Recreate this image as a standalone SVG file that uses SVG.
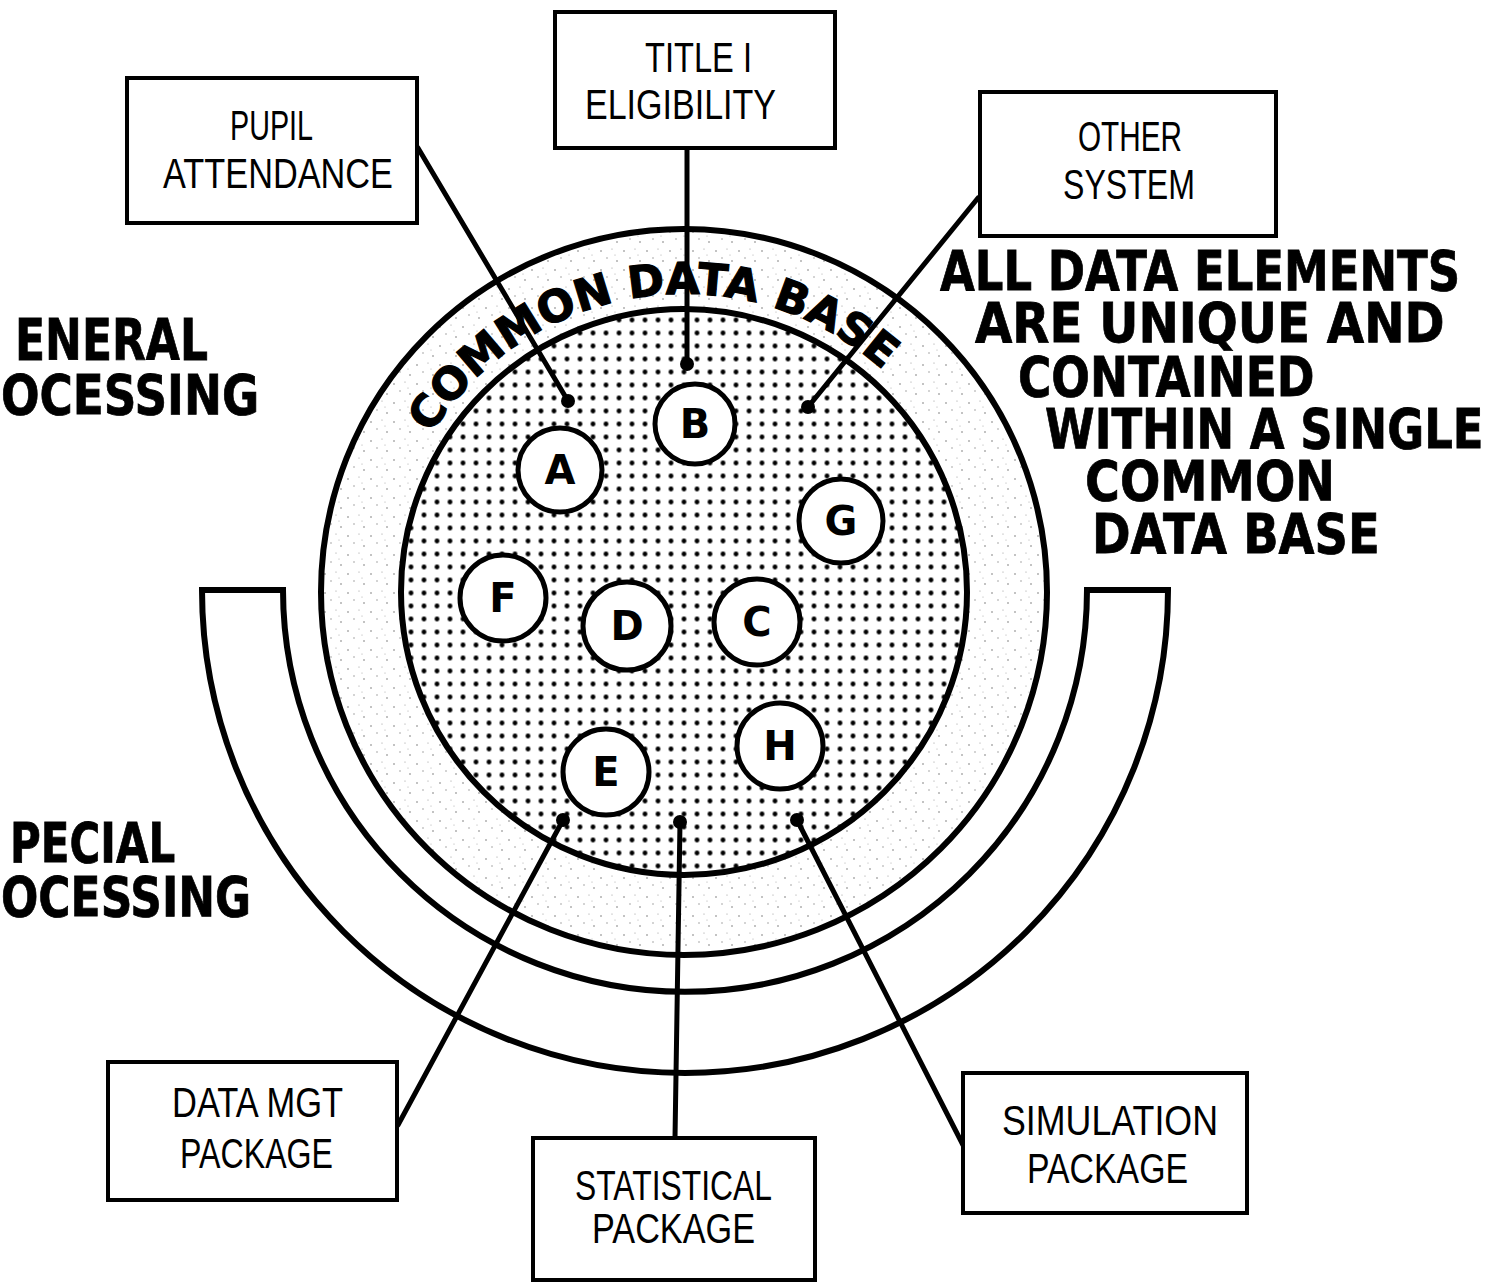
<svg xmlns="http://www.w3.org/2000/svg" width="1487" height="1284" viewBox="0 0 1487 1284">
<defs>
<pattern id="dots" x="443.5" y="560.5" width="13" height="13" patternUnits="userSpaceOnUse">
<rect width="13" height="13" fill="#fff"/>
<circle cx="6.5" cy="6.5" r="2.4" fill="#000"/>
</pattern>
<pattern id="speck" x="0" y="0" width="23" height="19" patternUnits="userSpaceOnUse">
<rect width="23" height="19" fill="#fff"/>
<circle cx="3" cy="4" r="0.8" fill="#777"/>
<circle cx="14" cy="2" r="0.6" fill="#999"/>
<circle cx="9" cy="11" r="0.7" fill="#888"/>
<circle cx="19" cy="14" r="0.8" fill="#777"/>
<circle cx="17" cy="8" r="0.5" fill="#999"/>
</pattern>
<path id="cdbArc" d="M 431.3 434.1 A 298 298 0 0 1 912.3 400.4"/>
</defs>
<style>
.ln{stroke:#000;stroke-width:5;fill:none;stroke-linecap:round}
.ring{stroke:#000;stroke-width:6}
.node circle{fill:#fff;stroke:#000;stroke-width:5}
.node text{font-family:"DejaVu Sans","Liberation Sans",sans-serif;font-weight:bold;font-size:40px;text-anchor:middle;fill:#000}
.box rect{fill:#fff;stroke:#000;stroke-width:4}
.box text{font-family:"Liberation Sans","DejaVu Sans",sans-serif;font-size:43px;fill:#000}
.big{font-family:"DejaVu Sans","Liberation Sans",sans-serif;font-weight:bold;font-size:56px;fill:#000;stroke:#000;stroke-width:0.8}
.end{fill:#000}
</style>

<g id="band">
<path class="ring" fill="#fff" d="M 202 590 L 283 590 A 402 402 0 0 0 1087 590 L 1168 590 A 483 483 0 0 1 202 590 Z"/>
</g>

<g id="common-data-base">
<circle class="ring" cx="684" cy="592" r="363" fill="url(#speck)"/>
<circle class="ring" cx="684" cy="592" r="283" fill="url(#dots)"/>
<text font-family="DejaVu Sans, Liberation Sans, sans-serif" font-weight="bold" font-size="44" fill="#000" stroke="#000" stroke-width="1.2"><textPath href="#cdbArc">COMMON DATA BASE</textPath></text>
</g>

<g id="node-A" class="node"><circle cx="560" cy="470" r="42"/><text x="560" y="484">A</text></g>
<g id="node-B" class="node"><circle cx="695" cy="424" r="40"/><text x="695" y="438">B</text></g>
<g id="node-G" class="node"><circle cx="841" cy="521" r="42"/><text x="841" y="535">G</text></g>
<g id="node-F" class="node"><circle cx="503" cy="598" r="43"/><text x="503" y="612">F</text></g>
<g id="node-D" class="node"><circle cx="627" cy="626" r="44"/><text x="627" y="640">D</text></g>
<g id="node-C" class="node"><circle cx="757" cy="622" r="43"/><text x="757" y="636">C</text></g>
<g id="node-H" class="node"><circle cx="780" cy="746" r="43"/><text x="780" y="760">H</text></g>
<g id="node-E" class="node"><circle cx="606" cy="772" r="43"/><text x="606" y="786">E</text></g>

<g id="connectors">
<line class="ln" x1="418" y1="148" x2="568" y2="401"/>
<line class="ln" x1="687" y1="148" x2="687" y2="364"/>
<line class="ln" x1="978" y1="198" x2="808" y2="407"/>
<line class="ln" x1="398" y1="1125" x2="563" y2="820"/>
<line class="ln" x1="675" y1="1138" x2="680" y2="822"/>
<line class="ln" x1="963" y1="1145" x2="797" y2="820"/>
<circle class="end" cx="568" cy="401" r="7"/>
<circle class="end" cx="687" cy="364" r="7"/>
<circle class="end" cx="808" cy="407" r="7"/>
<circle class="end" cx="563" cy="820" r="7"/>
<circle class="end" cx="680" cy="822" r="7"/>
<circle class="end" cx="797" cy="820" r="7"/>
</g>

<g id="box-pupil" class="box">
<rect x="127" y="78" width="290" height="145"/>
<text x="230" y="140" textLength="83" lengthAdjust="spacingAndGlyphs">PUPIL</text>
<text x="163" y="188" textLength="230" lengthAdjust="spacingAndGlyphs">ATTENDANCE</text>
</g>
<g id="box-title" class="box">
<rect x="555" y="12" width="280" height="136"/>
<text x="645" y="72" textLength="107" lengthAdjust="spacingAndGlyphs">TITLE I</text>
<text x="585" y="119" textLength="191" lengthAdjust="spacingAndGlyphs">ELIGIBILITY</text>
</g>
<g id="box-other" class="box">
<rect x="980" y="92" width="296" height="144"/>
<text x="1078" y="151" textLength="104" lengthAdjust="spacingAndGlyphs">OTHER</text>
<text x="1063" y="199" textLength="132" lengthAdjust="spacingAndGlyphs">SYSTEM</text>
</g>
<g id="box-datamgt" class="box">
<rect x="108" y="1062" width="289" height="138"/>
<text x="172" y="1117" textLength="171" lengthAdjust="spacingAndGlyphs">DATA MGT</text>
<text x="180" y="1168" textLength="153" lengthAdjust="spacingAndGlyphs">PACKAGE</text>
</g>
<g id="box-stat" class="box">
<rect x="533" y="1138" width="282" height="142"/>
<text x="575" y="1200" textLength="197" lengthAdjust="spacingAndGlyphs">STATISTICAL</text>
<text x="592" y="1243" textLength="163" lengthAdjust="spacingAndGlyphs">PACKAGE</text>
</g>
<g id="box-sim" class="box">
<rect x="963" y="1073" width="284" height="140"/>
<text x="1002" y="1135" textLength="216" lengthAdjust="spacingAndGlyphs">SIMULATION</text>
<text x="1027" y="1183" textLength="161" lengthAdjust="spacingAndGlyphs">PACKAGE</text>
</g>

<g id="labels">
<text class="big" transform="translate(15,360) scale(0.786,1)">ENERAL</text>
<text class="big" transform="translate(1,414) scale(0.81,1)">OCESSING</text>
<text class="big" transform="translate(10,862) scale(0.75,1)">PECIAL</text>
<text class="big" transform="translate(1,916) scale(0.785,1)">OCESSING</text>
<text class="big" transform="translate(940,290) scale(0.803,1)">ALL DATA ELEMENTS</text>
<text class="big" transform="translate(975,342) scale(0.862,1)">ARE UNIQUE AND</text>
<text class="big" transform="translate(1018,396) scale(0.812,1)">CONTAINED</text>
<text class="big" transform="translate(1045,448) scale(0.804,1)">WITHIN A SINGLE</text>
<text class="big" transform="translate(1085,500) scale(0.849,1)">COMMON</text>
<text class="big" transform="translate(1092,553) scale(0.83,1)">DATA BASE</text>
</g>
</svg>
